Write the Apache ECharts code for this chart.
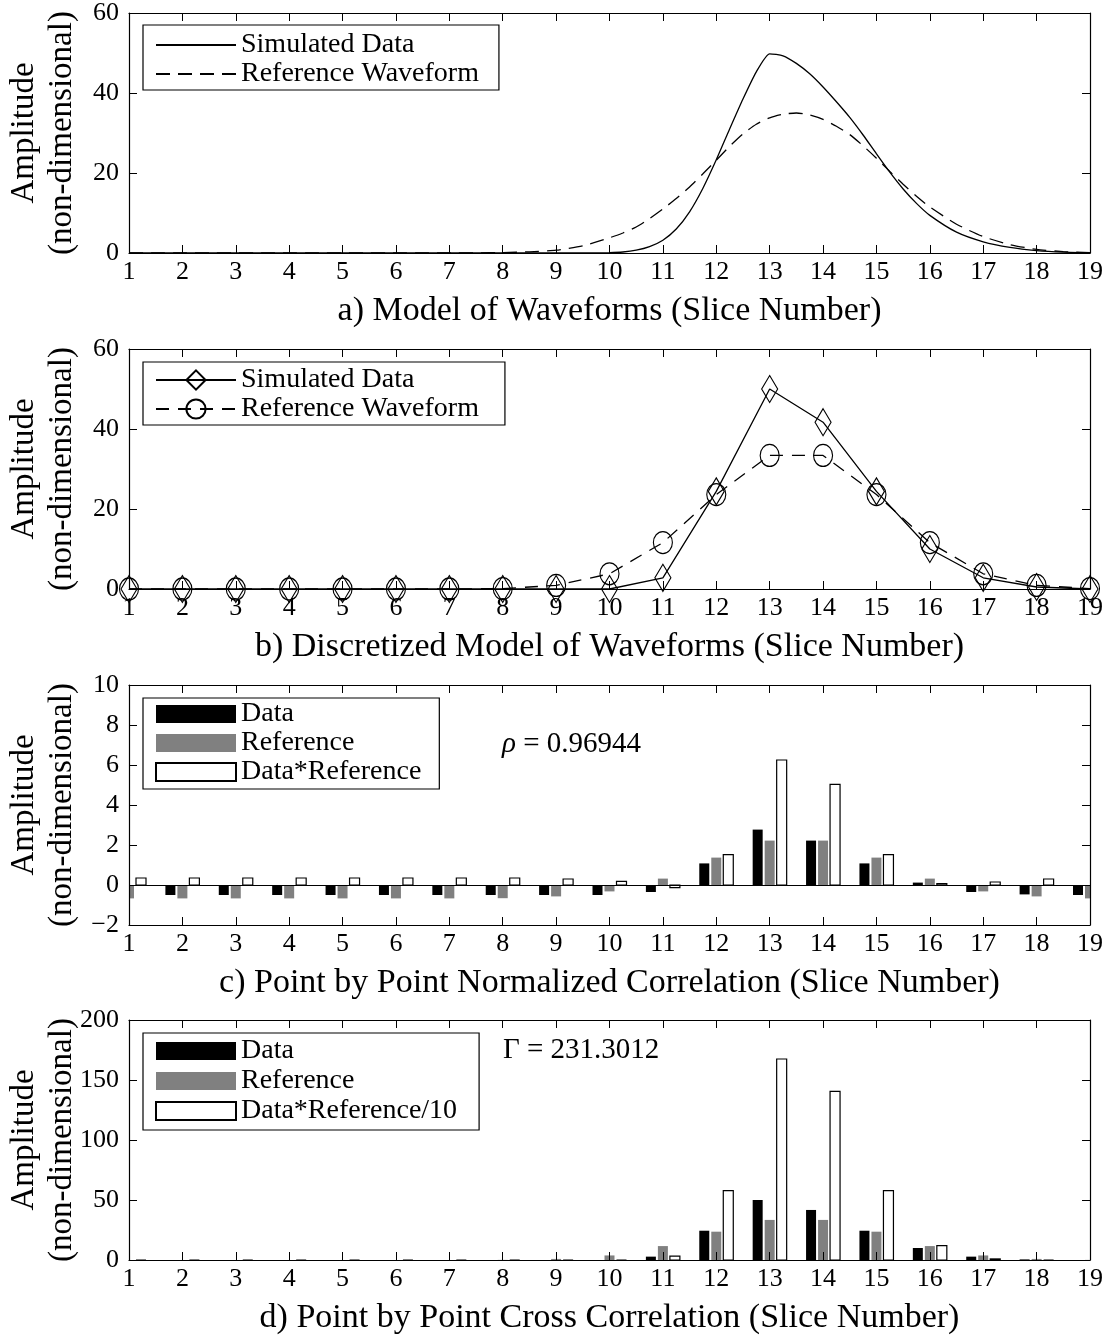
<!DOCTYPE html>
<html>
<head>
<meta charset="utf-8">
<script src="https://cdn.jsdelivr.net/npm/echarts@6/dist/echarts.min.js"></script>
<style>
  html, body { margin: 0; padding: 0; background: #fff; }
  #chart { width: 1109px; height: 1339px; }
</style>
</head>
<body>
<div id="chart"></div>
<script>
// slice numbers (x axis of every panel)
const slices = [1, 2, 3, 4, 5, 6, 7, 8, 9, 10, 11, 12, 13, 14, 15, 16, 17, 18, 19]

// a) continuous waveforms, sampled finer around the pulse
const fineX = [1, 1.5, 2, 2.5, 3, 3.5, 4, 4.5, 5, 5.5, 6, 6.5, 7, 7.5, 8, 8.5, 9, 9.5,
  10, 10.25, 10.5, 10.75, 11, 11.25, 11.5, 11.75, 12, 12.25, 12.5, 12.75,
  13, 13.25, 13.5, 13.75, 14, 14.25, 14.5, 14.75, 15, 15.25, 15.5, 15.75,
  16, 16.5, 17, 17.5, 18, 18.5, 19]
const simCurve = [0, 0, 0, 0, 0, 0, 0, 0, 0, 0, 0, 0, 0, 0, 0, 0, 0, 0.02,
  0.1, 0.25, 0.7, 1.6, 3.2, 6.0, 10.3, 16.2, 23.3, 31, 38.5, 45.3,
  49.8, 49.3, 47.4, 44.8, 41.5, 37.8, 33.9, 29.5, 24.8, 20.2, 16, 12.4,
  9.4, 5.2, 2.8, 1.4, 0.6, 0.2, 0.05]
const refCurve = [0, 0, 0, 0, 0, 0, 0, 0, 0, 0, 0, 0, 0.01, 0.03, 0.1, 0.3, 0.7, 1.8,
  3.8, 5.0, 6.5, 8.6, 11, 13.6, 16.5, 19.8, 23.2, 26.7, 29.8, 32.2,
  33.8, 34.7, 35, 34.5, 33.4, 31.7, 29.6, 26.8, 23.7, 20.4, 17.2, 14.2,
  11.5, 7.2, 4.1, 2.1, 0.9, 0.35, 0.1]

// b) and d) discretized waveforms
const simData = [0, 0, 0, 0, 0, 0, 0, 0, 0, 0, 2.8, 24.4, 50, 41.7, 24.4, 10, 2.8, 0.5, 0]
const refData = [0, 0, 0, 0, 0, 0, 0, 0.1, 0.9, 3.8, 11.6, 23.6, 33.4, 33.4, 23.6, 11.6, 3.8, 0.9, 0.1]

// c) normalized values and their product
const normData = [-0.5, -0.5, -0.5, -0.5, -0.5, -0.5, -0.5, -0.5, -0.5, -0.5, -0.35, 1.08, 2.77, 2.22, 1.08, 0.12, -0.35, -0.47, -0.5]
const normRef = [-0.67, -0.67, -0.67, -0.67, -0.67, -0.67, -0.67, -0.66, -0.57, -0.32, 0.32, 1.37, 2.22, 2.22, 1.37, 0.32, -0.32, -0.57, -0.67]
const normProduct = [0.35, 0.35, 0.35, 0.35, 0.35, 0.35, 0.35, 0.35, 0.3, 0.18, -0.13, 1.52, 6.25, 5.03, 1.52, 0.07, 0.15, 0.3, 0.35]

// d) cross product / 10
const crossProduct = [0, 0, 0, 0, 0, 0, 0, 0, 0, 0, 3.3, 57.8, 167.5, 140.6, 57.8, 11.9, 0.9, 0, 0]

const titles = [
  "a) Model of Waveforms (Slice Number)",
  "b) Discretized Model of Waveforms (Slice Number)",
  "c) Point by Point Normalized Correlation (Slice Number)",
  "d) Point by Point Cross Correlation (Slice Number)"
]
const yRanges = [[0, 60, 20], [0, 60, 20], [-2, 10, 2], [0, 200, 50]]

const FONT = "Liberation Serif"
const black = "#000"
const BAR_W = 10

const chart = echarts.init(document.getElementById("chart"))

function pairs(xs, ys) {
  return xs.map((x, i) => [x, ys[i]])
}

function minusLabel(v) {
  return v < 0 ? "\u2212" + -v : String(v)
}

// bottom + top x axes for one panel
function makeX(gi) {
  const common = {
    type: "value", gridIndex: gi, min: 1, max: 19, interval: 1, z: 10,
    axisLine: { onZero: false, lineStyle: { color: black, width: 1.2 } },
    axisTick: { inside: true, length: 8, lineStyle: { color: black } },
    splitLine: { show: false }
  }
  return [
    Object.assign({}, common, {
      position: "bottom",
      axisLabel: { color: black, fontFamily: FONT, fontSize: 26, margin: 6 },
      name: titles[gi], nameLocation: "middle", nameGap: 41, nameMoveOverlap: false,
      nameTextStyle: { color: black, fontFamily: FONT, fontSize: 34 }
    }),
    Object.assign({}, common, { position: "top", axisLabel: { show: false } })
  ]
}

// left + right y axes for one panel
function makeY(gi) {
  const r = yRanges[gi]
  const common = {
    type: "value", gridIndex: gi, min: r[0], max: r[1], interval: r[2], z: 10,
    axisLine: { show: true, onZero: false, lineStyle: { color: black, width: 1.2 } },
    axisTick: { show: true, inside: true, length: 8, lineStyle: { color: black } },
    splitLine: { show: false }
  }
  return [
    Object.assign({}, common, {
      position: "left",
      axisLabel: { color: black, fontFamily: FONT, fontSize: 26, margin: 10, formatter: minusLabel },
      name: "Amplitude\n(non-dimensional)", nameLocation: "middle", nameRotate: 90, nameGap: 48,
      nameMoveOverlap: false,
      nameTextStyle: { color: black, fontFamily: FONT, fontSize: 33, lineHeight: 38 }
    }),
    Object.assign({}, common, { position: "right", axisLabel: { show: false } })
  ]
}

function makeLegend(top, names, itemHeight, itemGap, padding) {
  return {
    left: 143, top: top, orient: "vertical",
    data: names,
    formatter: (n) => n.slice(2),
    itemWidth: 80, itemHeight: itemHeight, itemGap: itemGap,
    padding: padding,
    borderColor: black, borderWidth: 1.2, borderRadius: 0,
    backgroundColor: "#fff",
    selectedMode: false,
    textStyle: { fontFamily: FONT, fontSize: 28, color: black, lineHeight: 24 }
  }
}

const hidden = { color: "rgba(0,0,0,0)", borderColor: "rgba(0,0,0,0)" }

// grouped bars drawn through the axis scales, clipped to the plot box
function barSeries(name, gi, values, offset, style) {
  return {
    name: name, type: "custom", xAxisIndex: 2 * gi, yAxisIndex: 2 * gi,
    data: pairs(slices, values),
    itemStyle: { color: style.fill, borderColor: style.stroke || style.fill, borderWidth: style.lineWidth || 0 },
    renderItem: function (params, api) {
      const base = api.coord([api.value(0), 0])
      const tip = api.coord([api.value(0), api.value(1)])
      const cs = params.coordSys
      const rect = echarts.graphic.clipRectByRect(
        { x: base[0] + offset - BAR_W / 2, y: Math.min(base[1], tip[1]), width: BAR_W, height: Math.abs(tip[1] - base[1]) },
        { x: cs.x, y: cs.y, width: cs.width, height: cs.height }
      )
      if (!rect) return null
      return { type: "rect", shape: rect, style: Object.assign({}, style) }
    }
  }
}
const blackBar = { fill: black }
const greyBar = { fill: "#808080" }
const whiteBar = { fill: "#fff", stroke: black, lineWidth: 1.2 }

const series = [
  {
    name: "a:Simulated Data", type: "line", xAxisIndex: 0, yAxisIndex: 0,
    data: pairs(fineX, simCurve), symbol: "none", smooth: 0.2,
    lineStyle: { color: black, width: 1.3 }, itemStyle: { color: black }
  },
  {
    name: "a:Reference Waveform", type: "line", xAxisIndex: 0, yAxisIndex: 0,
    data: pairs(fineX, refCurve), symbol: "none", smooth: 0.2,
    lineStyle: { color: black, width: 1.3, type: [14, 8] }, itemStyle: { color: black }
  },
  {
    name: "b:Simulated Data", type: "line", xAxisIndex: 2, yAxisIndex: 2,
    data: pairs(slices, simData),
    symbol: "path://M8,0L16,13L8,26L0,13Z", symbolSize: [16, 27], symbolKeepAspect: false,
    lineStyle: { color: black, width: 1.3 },
    itemStyle: { color: "rgba(0,0,0,0)", borderColor: black, borderWidth: 1.2 }
  },
  {
    name: "b:Reference Waveform", type: "line", xAxisIndex: 2, yAxisIndex: 2,
    data: pairs(slices, refData),
    symbol: "circle", symbolSize: [19, 22],
    lineStyle: { color: black, width: 1.3, type: [13, 9] },
    itemStyle: { color: "rgba(0,0,0,0)", borderColor: black, borderWidth: 1.2 }
  },
  Object.assign(barSeries("c:Data", 2, normData, -12, blackBar), {
    markLine: {
      silent: true, symbol: "none", label: { show: false },
      lineStyle: { color: black, type: "solid", width: 1.2 },
      data: [{ yAxis: 0 }]
    }
  }),
  barSeries("c:Reference", 2, normRef, 0, greyBar),
  barSeries("c:Data*Reference", 2, normProduct, 12, whiteBar),
  barSeries("d:Data", 3, simData, -12, blackBar),
  barSeries("d:Reference", 3, refData, 0, greyBar),
  barSeries("d:Data*Reference/10", 3, crossProduct, 12, whiteBar)
]

const option = {
  backgroundColor: "#fff",
  animation: false,
  textStyle: { fontFamily: FONT },
  grid: [13, 349, 685, 1020].map((t) => ({
    left: 129, top: t, width: 961, height: 240, containLabel: false, outerBoundsMode: "none"
  })),
  xAxis: [].concat(makeX(0), makeX(1), makeX(2), makeX(3)),
  yAxis: [].concat(makeY(0), makeY(1), makeY(2), makeY(3)),
  legend: [
    makeLegend(25, [
      { name: "a:Simulated Data", itemStyle: hidden },
      { name: "a:Reference Waveform", itemStyle: hidden }
    ], 18, 1, [6, 20, 2, 12]),
    makeLegend(362, ["b:Simulated Data", "b:Reference Waveform"], 24, 1, [4, 26, 2, 12]),
    Object.assign(makeLegend(698, ["c:Data", "c:Reference", "c:Data*Reference"], 18, 1, [2, 18, 3, 12]), { icon: "rect" }),
    Object.assign(makeLegend(1033, ["d:Data", "d:Reference", "d:Data*Reference/10"], 18, 2, [4, 22, 5, 12]), { icon: "rect" })
  ],
  graphic: [
    {
      type: "text", left: 502, top: 730,
      style: {
        text: "{i|\u03c1} = 0.96944",
        fontFamily: FONT, fontSize: 29, fill: black,
        rich: { i: { fontFamily: FONT, fontSize: 29, fontStyle: "italic" } }
      }
    },
    {
      type: "text", left: 503, top: 1036,
      style: { text: "\u0393 = 231.3012", fontFamily: FONT, fontSize: 29, fill: black }
    }
  ],
  series: series
}

chart.setOption(option)
</script>
</body>
</html>
